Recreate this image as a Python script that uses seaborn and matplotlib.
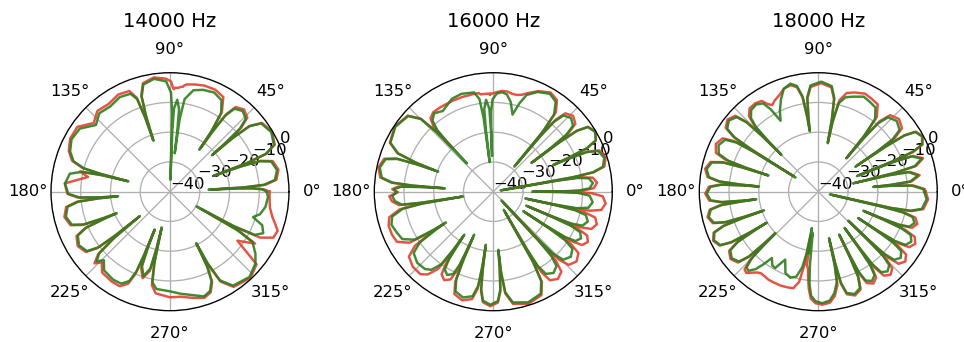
import numpy as np
import pandas as pd
import seaborn as sns
import matplotlib
matplotlib.use("Agg")
import matplotlib.pyplot as plt

titles = ["14000 Hz", "16000 Hz", "18000 Hz"]

# ---------------- 14000 Hz ----------------
theta_14k = [0, 1.5, 2.4, 2.8, 3,
             3.34, 4.19, 6.4, 11.5, 16.6, 18.81, 19.66, 20,
             20.42, 21.47, 24.2, 30.5, 36.8, 39.53, 40.58, 41,
             41.28, 41.98, 43.8, 48, 52.2, 54.02, 54.72, 55,
             55.56, 56.96, 60.6, 66, 72, 77, 81.04, 82.44, 83,
             83.2, 83.75, 85.5, 87.25, 87.8, 88,
             88.4, 89.4, 92, 98, 104, 106.6, 107.6, 108,
             108.5, 109.5, 112, 118, 125, 132, 138, 145, 152, 158, 162.5, 164.8, 165.6, 166,
             166.38, 167.33, 169.8, 175.5, 181.2, 183.67, 184.62, 185,
             185.34, 186.19, 188.4, 193.5, 198.6, 200.81, 201.66, 202,
             202.34, 203.19, 205.4, 210.5, 215.6, 217.81, 218.66, 219,
             219.6, 221, 223.5, 226, 230, 237, 242, 245.5, 247.2, 247.7, 248,
             248.36, 249.35, 252.5, 255.65, 256.64, 257,
             257.6, 259, 262, 270, 276, 282, 288, 292, 295, 296.4, 297,
             297.68, 299.38, 303.8, 313, 320, 324, 328.6, 330.3, 331,
             331.6, 333, 336, 340, 343, 346, 351, 357, 360]
green_14k = [-7.5, -9, -13, -18, -27,
             -15.3, -8.3, -4.5, -3.3, -4.5, -8.3, -15.3, -24.5,
             -12.5, -5.5, -1.7, -0.5, -1.7, -5.5, -12.5, -21.3,
             -15.5, -8.5, -4.7, -3.5, -4.7, -8.5, -15.5, -22.8,
             -15.5, -8.5, -4.7, -3.5, -4, -5, -8.5, -15.5, -27,
             -19, -12, -9, -12, -19, -36,
             -13.7, -6.7, -2.9, -1.7, -2.9, -6.7, -13.7, -22,
             -14, -7, -4.5, -4, -5, -4.5, -6.5, -3, -2.5, -3.8, -6, -10, -16, -25.6,
             -16.6, -9.6, -5.8, -4.6, -5.8, -9.6, -16.6, -22.5,
             -16, -9, -5.2, -4, -5.2, -9, -16, -20.7,
             -16.5, -9.5, -5.7, -4.5, -5.7, -9.5, -16.5, -27,
             -16, -8.5, -6, -8, -5.5, -4.8, -5, -7, -11, -17, -26.3,
             -20.3, -13.3, -10.3, -13.3, -20.3, -27.7,
             -16, -9, -7, -6.5, -5.5, -4.5, -3, -4, -7, -12, -20.6,
             -12.8, -5.8, -2, -0.8, -2.5, -4.5, -7.5, -14, -29.8,
             -16, -8, -5.7, -7, -10.8, -8.8, -7.5, -7, -7.5]
red_14k = [-6.5, -8.5, -12.5, -17.5, -26,
           -14.8, -7.8, -4, -2.8, -4, -7.8, -14.8, -24,
           -12.2, -5.2, -1.4, -0.2, -1.4, -5.2, -12.2, -21,
           -14.8, -7.8, -4, -2.8, -4, -7.8, -14.8, -22,
           -15, -8, -3.5, -2.5, -2.5, -3, -3.5, -4, -4.5,
           -4.5, -4.5, -5, -5, -5.5, -5.5,
           -5, -3, -2, -1.2, -2.4, -6.2, -13.2, -21.5,
           -13.5, -6.5, -3.5, -3, -4, -3.5, -5.5, -2, -2, -3.3, -5.5, -9.5, -15.5, -25,
           -16, -9, -12, -4.5, -5.5, -9, -16, -22,
           -15.5, -8.5, -4.7, -3.5, -4.7, -8.5, -15.5, -20,
           -16, -9, -5.2, -4, -5.2, -9, -16, -26.5,
           -15, -8, -5, -7, -4.5, -4, -4, -6, -10, -16, -26,
           -19.5, -12.5, -9.5, -12.5, -19.5, -27,
           -15, -8, -5.5, -4.5, -4.5, -3.5, -2.5, -3.5, -6.5, -11.5, -20,
           -12.3, -5.3, -1.5, -0.4, -2, -12, -6.5, -13, -28,
           -15, -6, -2, -1.5, -3, -4.5, -6, -6.5, -6.5]

# ---------------- 16000 Hz ----------------
theta_16k = [0, 0.2, 0.7, 2, 5, 8, 9.3, 9.8, 10,
             10.28, 10.98, 12.8, 17, 21.2, 23.02, 23.72, 24,
             24.26, 24.91, 26.6, 30.5, 34.4, 36.09, 36.74, 37,
             37.26, 37.91, 39.6, 43.5, 47.4, 49.09, 49.74, 50,
             50.5, 51.8, 55.2, 60, 66, 71, 73.5, 76,
             79, 82, 85, 88, 90.5, 91.5, 91.85, 92,
             92.2, 92.75, 94.5, 96.25, 96.8, 97,
             97.5, 98.5, 101, 108, 114, 122, 127, 130.5, 132.3, 132.8, 133,
             133.54, 134.89, 138.4, 146.5, 154.6, 158.11, 159.46, 160,
             160.32, 161.12, 163.2, 168, 172.8, 174.88, 175.68, 176,
             176.26, 176.91, 178.6, 180.3, 182.5, 185.5, 188.09, 188.74, 189,
             189.48, 190.68, 193.8, 198, 203, 207.5, 211.32, 212.52, 213,
             213.46, 214.61, 217.6, 223, 228.5, 231.6, 234.39, 235.54, 236,
             236.2, 236.7, 238, 241, 244, 245.3, 245.8, 246,
             246.32, 247.12, 249.2, 254, 258.8, 260.88, 261.68, 262,
             262.26, 262.91, 264.6, 268.5, 272.4, 274.09, 274.74, 275,
             275.5, 276.75, 280, 287.5, 295, 298.25, 299.5, 300,
             300.26, 300.91, 302.6, 306.5, 310.4, 312.09, 312.74, 313,
             313.28, 313.98, 315.8, 320, 324.2, 326.02, 326.72, 327,
             327.2, 327.7, 329, 332, 335, 336.3, 336.8, 337,
             337.22, 337.77, 339.2, 342.5, 345.8, 347.23, 347.78, 348,
             348.24, 348.84, 350.4, 354, 357.6, 359.16, 359.76, 360]
green_16k = [-26.7, -18.4, -11.4, -7.6, -6.4, -7.6, -11.4, -18.4, -37.5,
             -13, -6, -2.2, -1, -2.2, -6, -13, -18,
             -12.3, -5.3, -1.5, -0.3, -1.5, -5.3, -12.3, -24,
             -16, -9, -5.2, -4, -5.2, -9, -16, -29,
             -14, -7, -3.2, -2, -3.3, -5.6, -9, -13.3,
             -9.3, -7, -6.4, -7, -9, -13, -18, -28,
             -19, -12, -9, -12, -19, -30,
             -15, -8.5, -6, -5.4, -5.8, -8, -7, -8.5, -12, -17, -27,
             -12.5, -5.5, -1.7, -0.5, -1.7, -5.5, -12.5, -20.3,
             -13, -6, -2.2, -1, -2.2, -6, -13, -23.7,
             -16, -9, -6.5, -7.5, -6, -6.8, -9, -16, -29.7,
             -16, -9, -5, -4, -4.8, -5.5, -9, -16, -21,
             -17, -10, -6.2, -5, -5.3, -6.5, -10, -17, -22.6,
             -20, -13, -9.2, -8, -9.2, -13, -20, -24.2,
             -15, -8, -4.2, -3, -4.2, -8, -15, -22,
             -14, -7, -3.2, -2, -3.2, -7, -14, -20.4,
             -13, -6, -2.2, -1, -2.2, -6, -13, -33,
             -18, -11, -7.2, -6, -7.2, -11, -18, -36,
             -18, -11, -7.2, -6, -7.2, -11, -18, -28,
             -18.6, -11.6, -7.8, -6.6, -7.8, -11.6, -18.6, -28,
             -18.7, -11.7, -7.9, -6.7, -7.9, -11.7, -18.7, -29,
             -18.4, -11.4, -7.6, -6.4, -7.6, -11.4, -18.4, -26.7]
red_16k = [-26, -17, -10, -6.2, -5, -6.2, -10, -17, -36.5,
           -12.5, -5.5, -1.7, -0.5, -1.7, -5.5, -12.5, -17.5,
           -12.2, -5.2, -1.4, -0.2, -1.4, -5.2, -12.2, -23.5,
           -15, -8, -4.2, -3, -4.2, -8, -15, -28,
           -13, -6, -2.5, -1.5, -3, -5, -6, -6.5,
           -6.5, -6, -6, -6.5, -7, -7, -7.5, -7.5,
           -7, -7, -7, -7, -7, -7,
           -7, -6.5, -6.5, -6.5, -6.5, -6.5, -6.5, -7.5, -10, -14, -20,
           -12.3, -5.3, -1.5, -0.3, -1.5, -5.3, -12.3, -19,
           -12.5, -5.5, -1.7, -0.5, -1.7, -5.5, -12.5, -23,
           -15, -8, -6, -8, -5, -5.8, -8, -15, -29,
           -15, -8, -4, -3, -3, -3.5, -7, -14, -20,
           -15, -8, -4.2, -3, -3, -4.5, -8, -15, -22,
           -18, -11, -7.2, -6, -7.2, -11, -18, -23,
           -14, -7, -3.2, -2, -3.2, -7, -14, -21,
           -13.5, -6.5, -2.7, -1.5, -2.7, -6.5, -13.5, -20,
           -12.5, -5.5, -1.7, -0.5, -1.7, -5.5, -12.5, -32,
           -15.5, -8.5, -4.7, -3.5, -4.7, -8.5, -15.5, -35,
           -15.5, -8.5, -4.7, -3.5, -4.7, -8.5, -15.5, -27,
           -16, -9, -5.2, -4, -5.2, -9, -16, -27,
           -15.5, -8.5, -4.7, -3.5, -4.7, -8.5, -15.5, -28,
           -14, -7, -3.2, -2, -3.2, -7, -14, -26]

# ---------------- 18000 Hz ----------------
theta_18k = [0, 1.4, 3.74, 4.64, 5,
             5.34, 6.28, 9.25, 12.22, 13.16, 13.5,
             13.84, 14.78, 17.75, 20.72, 21.66, 22,
             22.24, 22.84, 24.4, 28, 31.6, 33.16, 33.76, 34,
             34.32, 35.12, 37.2, 42, 46.8, 48.88, 49.68, 50,
             50.58, 52, 55.8, 60, 64.5, 70, 74, 77, 78.4, 79,
             79.38, 80.33, 82.8, 88.5, 94.2, 96.67, 97.62, 98,
             98.4, 99.4, 101.5, 104.5, 108.5, 112, 115.5, 118,
             120, 122, 125.5, 129.5, 132.5, 134, 134.65, 135,
             135.26, 135.91, 137.6, 141.5, 145.4, 147.09, 147.74, 148,
             148.28, 148.98, 150.8, 155, 159.2, 161.02, 161.72, 162,
             162.26, 162.91, 164.6, 168.5, 172.4, 174.09, 174.74, 175,
             175.24, 175.84, 177.4, 181, 184.6, 186.16, 186.76, 187,
             187.24, 187.84, 189.4, 193, 196.6, 198.16, 198.76, 199,
             199.24, 199.84, 201.4, 205, 208.6, 210.16, 210.76, 211,
             211.26, 211.91, 213.6, 217.5, 221.4, 223.09, 223.74, 224,
             224.3, 225, 226.5, 228.5, 231, 233, 235, 238, 240.5, 244, 248, 252, 255.5, 258, 259.3, 260,
             261.2, 262.3, 263.5, 264.5, 266, 268.5, 272, 276, 279, 281.6, 282.6, 283,
             283.26, 283.91, 285.6, 289.5, 293.4, 295.09, 295.74, 296,
             296.2, 296.7, 298, 301, 304, 305.3, 305.8, 306,
             306.2, 306.7, 308, 311, 314, 315.3, 315.8, 316,
             316.21, 316.74, 318.1, 321.25, 324.4, 325.76, 326.29, 326.5,
             326.71, 327.24, 328.6, 331.75, 334.9, 336.26, 336.79, 337,
             337.2, 337.7, 339, 342, 345, 346.3, 346.8, 347,
             347.36, 348.26, 350.6, 356, 360]
green_18k = [-4.4, -4.7, -8.5, -15.5, -21.5,
             -16, -9, -6, -9, -16, -28,
             -13.5, -6.5, -3.5, -6.5, -13.5, -26,
             -12.5, -5.5, -1.7, -0.5, -1.7, -5.5, -12.5, -25,
             -16.5, -9.5, -5.7, -4.5, -5.7, -9.5, -16.5, -25.4,
             -16, -9, -5.8, -5.2, -4.6, -6, -7, -9.5, -16, -23.4,
             -15, -8, -4.2, -3, -4.2, -8, -15, -19.5,
             -14.5, -7.5, -3.7, -2.5, -3.5, -6.5, -10, -13,
             -8, -5, -4, -4.5, -6.5, -10, -16, -22.5,
             -13.6, -6.6, -2.8, -1.6, -2.8, -6.6, -13.6, -31,
             -15, -8, -4.2, -3, -4.2, -8, -15, -22.4,
             -13.7, -6.7, -2.9, -1.7, -2.9, -6.7, -13.7, -20,
             -14.5, -7.5, -3.7, -2.5, -3.7, -7.5, -14.5, -19,
             -14.2, -7.2, -3.4, -2.2, -3.4, -7.2, -14.2, -20.7,
             -13.3, -6.3, -2.5, -1.3, -2.5, -6.3, -13.3, -19.8,
             -15.3, -8.3, -4.5, -3.3, -4.5, -8.3, -15.3, -20,
             -15, -8.5, -5, -4.5, -6.5, -9.5, -12.8, -10.8, -10.5, -14.6, -10.5, -9.6, -10.5, -14, -19, -27.6,
             -19, -26, -15, -9, -5, -3.2, -2.5, -3.2, -5.5, -9, -15, -24,
             -15.5, -8.5, -4.7, -3.5, -4.7, -8.5, -15.5, -24,
             -17, -10, -6.2, -5, -6.2, -10, -17, -25,
             -16.5, -9.5, -5.7, -4.5, -5.7, -9.5, -16.5, -26,
             -16.5, -9.5, -5.7, -4.5, -5.7, -9.5, -16.5, -24,
             -16.5, -9.5, -5.7, -4.5, -5.7, -9.5, -16.5, -23.6,
             -18, -11, -7.2, -6, -7.2, -11, -18, -36,
             -15.5, -8.5, -4.7, -3.5, -4.4]
red_18k = [-3.9, -4.2, -8, -15, -21,
           -15.5, -8.5, -5.5, -8.5, -15.5, -27,
           -13, -6, -3, -6, -13, -25,
           -12.3, -5.3, -1.5, -0.3, -1.5, -5.3, -12.3, -24,
           -15.5, -8.5, -4.7, -3.5, -4.7, -8.5, -15.5, -25,
           -15, -8, -4.5, -4, -3.5, -4.5, -5.5, -8.5, -15, -23,
           -15.5, -8.5, -4.7, -3.5, -4.7, -8.5, -15.5, -19,
           -15, -8, -4.2, -3, -3.5, -5, -6, -7,
           -6, -4, -3.5, -3.7, -5.5, -9, -15, -22,
           -13, -6, -2.2, -1, -2.2, -6, -13, -30,
           -14, -7, -3.2, -2, -3.2, -7, -14, -22,
           -13.2, -6.2, -2.4, -1.2, -2.4, -6.2, -13.2, -19.5,
           -14, -7, -3.2, -2, -3.2, -7, -14, -18.5,
           -13.8, -6.8, -3, -1.8, -3, -6.8, -13.8, -20,
           -13, -6, -2.2, -1, -2.2, -6, -13, -19.5,
           -14.8, -7.8, -4, -2.8, -4, -7.8, -14.8, -19.5,
           -14, -7.5, -4, -3.5, -5, -6, -6.5, -6.3, -6, -6, -6, -6.2, -6.5, -9, -15, -25,
           -15, -14, -10, -7, -4, -2.5, -2, -2.5, -4.5, -8, -14, -23.5,
           -15, -8, -4.2, -3, -4.2, -8, -15, -23.5,
           -16, -9, -5.2, -4, -5.2, -9, -16, -24.5,
           -15, -8, -4.2, -3, -4.2, -8, -15, -25.5,
           -14.5, -7.5, -3.7, -2.5, -3.7, -7.5, -14.5, -23.5,
           -15, -8, -4.2, -3, -4.2, -8, -15, -23,
           -17, -10, -6.2, -5, -6.2, -10, -17, -35,
           -15, -8, -4.2, -3, -3.9]

thetas = [theta_14k, theta_16k, theta_18k]
greens = [green_14k, green_16k, green_18k]
reds = [red_14k, red_16k, red_18k]
for t, g, r in zip(thetas, greens, reds):
    assert len(t) == len(g) == len(r), (len(t), len(g), len(r))

RED = "#e2412f"
GREEN = "#2f7d1e"

DPI = 118
fig = plt.figure(figsize=(964 / DPI, 342 / DPI), dpi=DPI)
W, H = 964, 342
R = 119
centers = [170, 493.3, 818.3]
cy = 342 - 191.7

for i in range(3):
    ax = fig.add_axes([(centers[i] - R) / W, (cy - R) / H, 2 * R / W, 2 * R / H], projection="polar")
    th = np.deg2rad(np.array(thetas[i], dtype=float))
    df_r = pd.DataFrame({"theta": th, "db": reds[i]})
    df_g = pd.DataFrame({"theta": th, "db": greens[i]})
    sns.lineplot(data=df_r, x="theta", y="db", ax=ax, color=RED, sort=False,
                 estimator=None, linewidth=1.5, alpha=0.9)
    sns.lineplot(data=df_g, x="theta", y="db", ax=ax, color=GREEN, sort=False,
                 estimator=None, linewidth=1.5, alpha=0.9)
    ax.set_ylim(-40, 0)
    ax.set_yticks([-40, -30, -20, -10, 0])
    ax.set_xlabel("")
    ax.set_ylabel("")
    ax.grid(True, color="#b0b0b0", linewidth=0.8)
    ax.set_title(titles[i], y=1.19, pad=0, fontsize=12)

fig.savefig("out.png", dpi=DPI)
